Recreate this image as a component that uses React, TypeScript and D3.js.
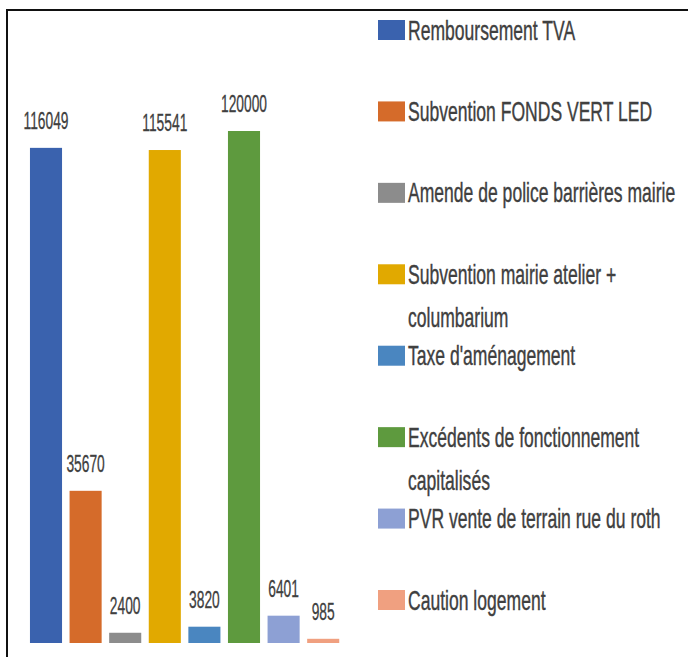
import React from "react";
import * as d3 from "d3";

const categories = [
  "Remboursement TVA",
  "Subvention FONDS VERT LED",
  "Amende de police barrières mairie",
  "Subvention mairie atelier + columbarium",
  "Taxe d'aménagement",
  "Excédents de fonctionnement capitalisés",
  "PVR vente de terrain rue du roth",
  "Caution logement",
];
const legendLines = [
  ["Remboursement TVA"],
  ["Subvention FONDS VERT LED"],
  ["Amende de police barrières mairie"],
  ["Subvention mairie atelier +", "columbarium"],
  ["Taxe d'aménagement"],
  ["Excédents de fonctionnement", "capitalisés"],
  ["PVR vente de terrain rue du roth"],
  ["Caution logement"],
];
const values = [116049, 35670, 2400, 115541, 3820, 120000, 6401, 985];
const colors = ["#3A62AE", "#D56B2A", "#8C8C8C", "#E1A900", "#4A86C0", "#5E9A3E", "#8DA0D4", "#F0A080"];

const W = 688;
const H = 657;
const FONT = "'Liberation Sans', Arial, sans-serif";

export default function App() {
  const x = d3.scaleBand<string>().domain(categories).range([26.2, 343]).paddingInner(0.19).paddingOuter(0.095);
  const y = d3.scaleLinear().domain([0, 120000]).range([643, 131]);
  const legendY = d3.scaleLinear().domain([0, 7]).range([30, 600]);
  const sxLabel = 0.6;
  const sxLegend = 0.65;

  return (
    <svg width={W} height={H} style={{ position: "absolute", left: 0, top: 0, background: "#fff" }}>
      <rect x={0} y={0} width={W} height={H} fill="#fff" />
      <rect x={7} y={10} width={W + 20} height={H + 20} fill="none" stroke="#111" strokeWidth={2} />
      {categories.map((c, i) => {
        const bx = x(c)!;
        const bw = x.bandwidth();
        const top = y(values[i]);
        return (
          <g key={c}>
            <rect x={bx} y={top} width={bw} height={y(0) - top} fill={colors[i]} />
            <text
              transform={`translate(${bx + bw / 2},${top - 19}) scale(${sxLabel},1)`}
              textAnchor="middle"
              fontFamily={FONT}
              fontSize={23}
              fill="#404040"
              stroke="#404040"
              strokeWidth={0.3}
            >
              {values[i]}
            </text>
          </g>
        );
      })}
      {legendLines.map((lines, i) => {
        const cy = legendY(i);
        return (
          <g key={i}>
            <rect x={378} y={cy - 10} width={27} height={20} fill={colors[i]} />
            {lines.map((ln, j) => (
              <text
                key={j}
                transform={`translate(408,${cy + 9.5 + j * 43}) scale(${sxLegend},1)`}
                fontFamily={FONT}
                fontSize={27}
                fill="#404040"
                stroke="#404040"
                strokeWidth={0.4}
              >
                {ln}
              </text>
            ))}
          </g>
        );
      })}
    </svg>
  );
}
